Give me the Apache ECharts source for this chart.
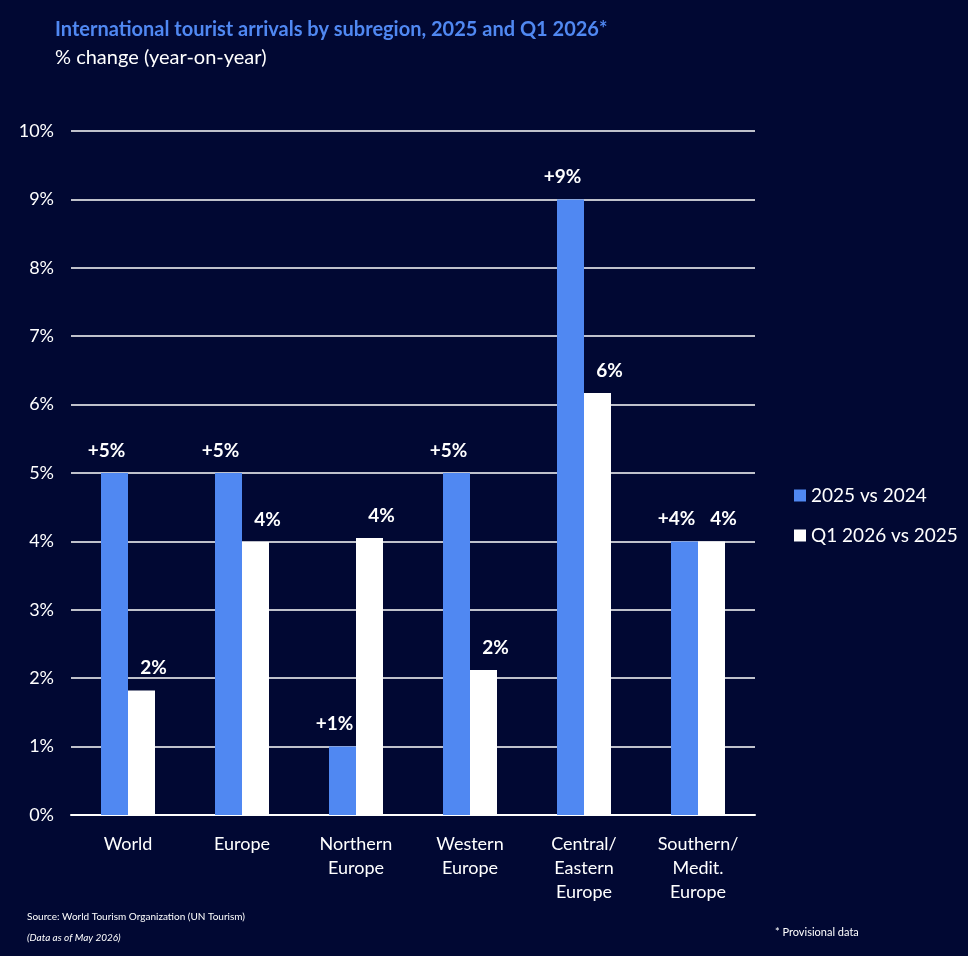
<!DOCTYPE html>
<html>
<head>
<meta charset="utf-8">
<script src="https://cdn.jsdelivr.net/npm/echarts@6/dist/echarts.min.js"></script>
<style>
  html, body { margin: 0; padding: 0; background: #010833; }
  #chart { width: 968px; height: 956px; }
</style>
</head>
<body>
<div id="chart"></div>
<script>
var categories = ['World', 'Europe', 'Northern\nEurope', 'Western\nEurope', 'Central/\nEastern\nEurope', 'Southern/\nMedit.\nEurope'];
var arrivals2025 = [5, 5, 1, 5, 9, 4];
var arrivalsQ1 = [1.82, 3.99, 4.05, 2.12, 6.17, 4.0];
var seriesNames = ['2025 vs 2024', 'Q1 2026 vs 2025'];

var font = 'Lato, "Open Sans", sans-serif';
var chart = echarts.init(document.getElementById('chart'));

var option = {
    backgroundColor: '#010833',
    textStyle: { fontFamily: font },
    title: [
        {
            text: 'International tourist arrivals by subregion, 2025 and Q1 2026*',
            left: 50, top: 15,
            textStyle: { color: '#5088f2', fontSize: 20, fontWeight: 'bold', fontFamily: font }
        },
        {
            text: '% change (year-on-year)',
            left: 50, top: 43,
            textStyle: { color: '#ffffff', fontSize: 20, fontWeight: 'normal', fontFamily: font }
        },
        {
            text: 'Source: World Tourism Organization (UN Tourism)',
            left: 22, top: 907,
            textStyle: { color: '#ffffff', fontSize: 10, fontWeight: 'normal', fontFamily: font }
        },
        {
            text: '(Data as of May 2026)',
            left: 22, top: 928,
            textStyle: { color: '#ffffff', fontSize: 10, fontStyle: 'italic', fontWeight: 'normal', fontFamily: font }
        },
        {
            text: '* Provisional data',
            left: 770, top: 922,
            textStyle: { color: '#ffffff', fontSize: 11, fontWeight: 'normal', fontFamily: font }
        }
    ],
    legend: {
        orient: 'vertical',
        left: 789, top: 481,
        itemWidth: 12, itemHeight: 12,
        itemGap: 21,
        icon: 'rect',
        textStyle: { color: '#ffffff', fontSize: 19, fontFamily: font },
        data: seriesNames
    },
    grid: { left: 71, right: 213, top: 131, bottom: 141 },
    xAxis: {
        type: 'category',
        data: categories,
        axisLine: { lineStyle: { color: '#ffffff', width: 2 } },
        axisTick: { show: false },
        axisLabel: { color: '#ffffff', fontSize: 18, lineHeight: 24, margin: 17, interval: 0 }
    },
    yAxis: {
        type: 'value',
        min: 0, max: 10, interval: 1,
        axisLine: { show: false },
        axisTick: { show: false },
        axisLabel: { color: '#ffffff', fontSize: 18, margin: 17, formatter: '{value}%' },
        splitLine: { lineStyle: { color: '#ffffff', width: 1.5 } }
    },
    series: [
        {
            name: seriesNames[0],
            type: 'bar',
            data: arrivals2025,
            barWidth: 27,
            barGap: '0%',
            itemStyle: { color: '#5088f2' },
            label: {
                show: true, position: 'top', distance: 13, offset: [-8, 0],
                color: '#ffffff', fontSize: 19, fontWeight: 'bold',
                formatter: function (p) { return '+' + Math.round(p.value) + '%'; }
            }
        },
        {
            name: seriesNames[1],
            type: 'bar',
            data: arrivalsQ1,
            barWidth: 27,
            barGap: '0%',
            itemStyle: { color: '#ffffff' },
            label: {
                show: true, position: 'top', distance: 13, offset: [12, 0],
                color: '#ffffff', fontSize: 19, fontWeight: 'bold',
                formatter: function (p) { return Math.round(p.value) + '%'; }
            }
        }
    ]
};
chart.setOption(option);
</script>
</body>
</html>
